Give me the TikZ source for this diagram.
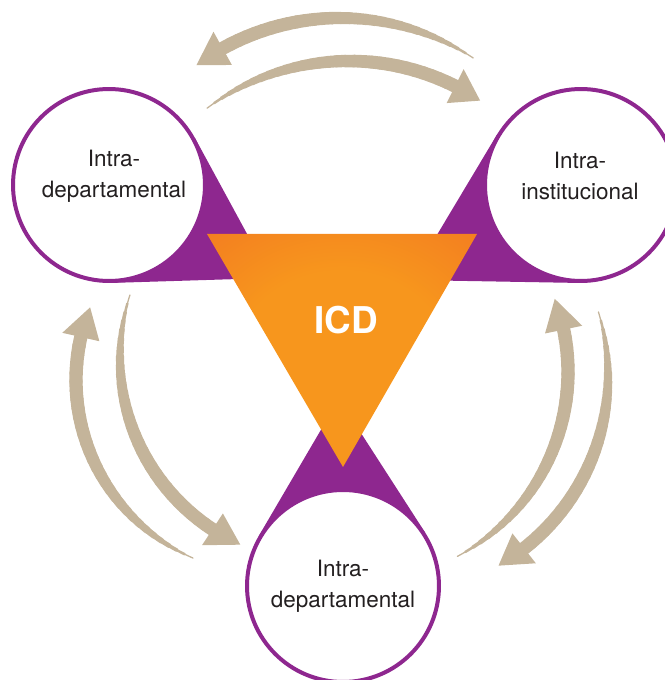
\documentclass[tikz,border=0pt]{standalone}
\usepackage{fontspec}
\setmainfont{TeX Gyre Heros}
\usetikzlibrary{calc,backgrounds}

\definecolor{icdpurple}{HTML}{8E278F}
\definecolor{icdorangeA}{HTML}{F06A23}
\definecolor{icdorangeB}{HTML}{F7961D}
\definecolor{icdbeige}{HTML}{C4B49A}
\definecolor{icdtext}{HTML}{231F20}

\pgfdeclareradialshading{icdglow}{\pgfpoint{0bp}{-4bp}}{color(0bp)=(icdorangeB); color(20bp)=(icdorangeB); color(52bp)=(icdorangeA); color(80bp)=(icdorangeA)}

\tikzset{
  ring/.style={circle, draw=icdpurple, fill=white, line width=2.27pt, minimum size=3.84cm, inner sep=0pt},
  lbl/.style={align=center, text=icdtext, font=\fontsize{12.8}{17.6}\selectfont},
  core/.style={text=white, font=\bfseries\fontsize{21}{25}\selectfont},
  flow/.style={icdbeige},
}

\newcommand{\bentarrow}[6]{%
  \foreach \k in {0,...,29}{
    \pgfmathsetmacro{\angA}{#4+(#5-#4)*\k/30}
    \pgfmathsetmacro{\angB}{#4+(#5-#4)*(\k+1)/30}
    \pgfmathsetmacro{\arrw}{7.6*(1-(1-(\k+1)/30)^3)}
    \path[draw,flow,line width=\arrw pt,line cap=round] ($(#1,#2)+(\angA:#3)$) arc[start angle=\angA,end angle=\angB,radius=#3];
  }
  \path[fill,flow] ($(#1,#2)+(#5:#3-19)$) -- ($(#1,#2)+(#6:#3)$) -- ($(#1,#2)+(#5:#3+19)$) -- cycle;
}

\begin{document}
\begin{tikzpicture}[x=0.02cm,y=0.02cm]
\useasboundingbox (0,0) rectangle (665,680);
\clip (0,0) rectangle (665,680);

\bentarrow{340}{420}{242}{56.6}{119}{126.4}
\bentarrow{349}{382}{237}{126.8}{63.4}{56.4}
\bentarrow{270}{300}{194}{246.6}{167.2}{158}
\bentarrow{325}{322}{205}{162.1}{236.7}{245.6}
\bentarrow{359}{308}{209}{-61.9}{11.7}{20.5}
\bentarrow{389}{304}{219}{17}{-51.9}{-60}

\node[ring] (c1) at (109,495) {};
\node[ring] (c2) at (581,495) {};
\node[ring] (c3) at (343,94) {};

\coordinate (tp1) at (271,402);
\coordinate (tp2) at (410,400);
\coordinate (tp3) at (339,281);

\begin{scope}[on background layer]
\path[fill=icdpurple] (tp1) -- (tangent cs:node=c1,point={(tp1)},solution=1) -- (c1.center) -- (tangent cs:node=c1,point={(tp1)},solution=2) -- cycle;
\path[fill=icdpurple] (tp2) -- (tangent cs:node=c2,point={(tp2)},solution=1) -- (c2.center) -- (tangent cs:node=c2,point={(tp2)},solution=2) -- cycle;
\path[fill=icdpurple] (tp3) -- (tangent cs:node=c3,point={(tp3)},solution=1) -- (c3.center) -- (tangent cs:node=c3,point={(tp3)},solution=2) -- cycle;
\end{scope}

\coordinate (o1) at (207,446);
\coordinate (o2) at (477,446);
\coordinate (o3) at (343,213);
\path[shading=icdglow] (o1) -- (o2) -- (o3) -- cycle;

\node[lbl] (t1) at (114,504) {Intra-\\departamental};
\node[lbl] (t2) at (580,504) {Intra-\\institucional};
\node[lbl] (t3) at (343,94) {Intra-\\departamental};
\node[core] (icd) at (346,360) {ICD};
\end{tikzpicture}
\end{document}
